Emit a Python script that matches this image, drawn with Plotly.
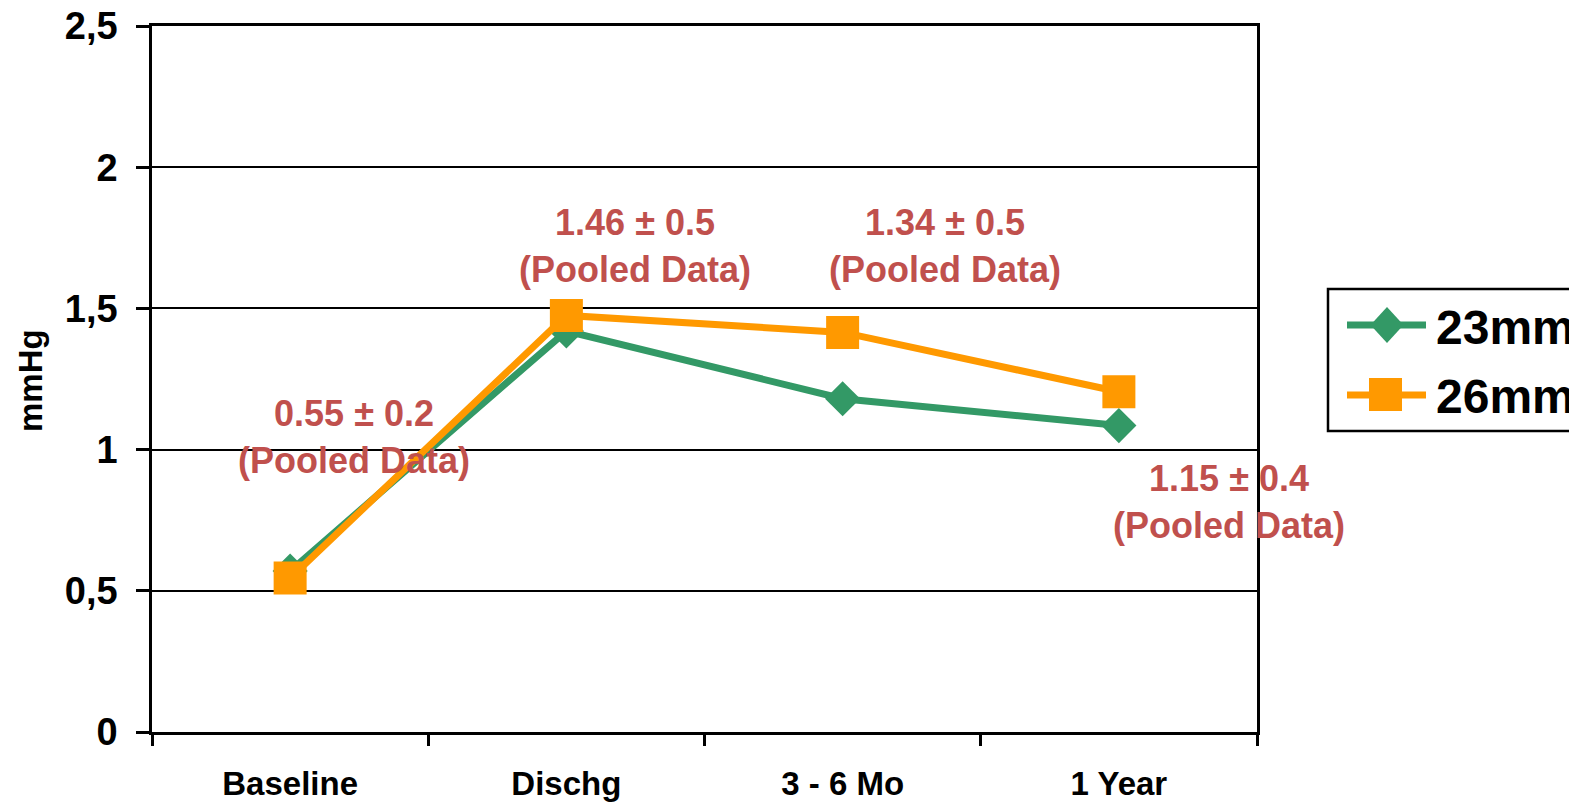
import plotly.graph_objects as go

# Mean transvalvular gradient by follow-up visit, per valve size
categories = ["Baseline", "Dischg", "3 - 6 Mo", "1 Year"]
series_names = ["23mm", "26mm"]
values_23mm = [0.57, 1.42, 1.18, 1.085]
values_26mm = [0.545, 1.475, 1.415, 1.205]

# Pooled mean ± SD labels shown beside the points
pooled_labels = ["0.55 ± 0.2", "1.46 ± 0.5", "1.34 ± 0.5", "1.15 ± 0.4"]

GREEN = "#339966"
ORANGE = "#FF9900"
LABEL_RED = "#C0504D"
FONT = "Liberation Sans, Arial, sans-serif"

W_FIG, H_FIG = 1569, 804
L, R, T, B = 152, 312, 26, 72
PW = W_FIG - L - R
PH = H_FIG - T - B


def px_x(px):
    return (px - L) / PW


def px_y(py):
    return (H_FIG - B - py) / PH


fig = go.Figure()

fig.add_trace(go.Scatter(
    x=categories, y=values_23mm, name=series_names[0], mode="lines+markers",
    line=dict(color=GREEN, width=7),
    marker=dict(symbol="diamond", size=27, color=GREEN),
    showlegend=False, cliponaxis=False,
))
fig.add_trace(go.Scatter(
    x=categories, y=values_26mm, name=series_names[1], mode="lines+markers",
    line=dict(color=ORANGE, width=7),
    marker=dict(symbol="square", size=33, color=ORANGE),
    showlegend=False, cliponaxis=False,
))

# Pooled-data annotations (x as category index, y in mmHg)
label_pos = [(0.23, 1.045), (1.25, 1.72), (2.37, 1.72), (3.4, 0.815)]
annotations = []
for txt, (ax, ay) in zip(pooled_labels, label_pos):
    annotations.append(dict(
        x=ax, y=ay, xref="x", yref="y", showarrow=False,
        text=f"{txt}<br>(Pooled Data)",
        font=dict(family=FONT, size=36, color=LABEL_RED, weight="bold"),
        xanchor="center", yanchor="middle", align="center",
    ))

# y-axis title
annotations.append(dict(
    x=px_x(31), y=px_y(381), xref="paper", yref="paper", showarrow=False,
    text="mmHg", textangle=-90,
    font=dict(family=FONT, size=33, color="black", weight="bold"),
    xanchor="center", yanchor="middle",
))

# Legend labels
for name, cy in zip(series_names, [327, 396]):
    annotations.append(dict(
        x=px_x(1434), y=px_y(cy), xref="paper", yref="paper", showarrow=False,
        text=name, font=dict(family=FONT, size=48, color="black", weight="bold"),
        xanchor="left", yanchor="middle",
    ))

# Legend frame and symbols
shapes = [
    dict(type="rect", xref="paper", yref="paper",
         x0=px_x(1328), x1=px_x(1620), y0=px_y(431), y1=px_y(289),
         line=dict(color="black", width=2.5), fillcolor="white", layer="below"),
    dict(type="line", xref="paper", yref="paper",
         x0=px_x(1347), x1=px_x(1426), y0=px_y(325), y1=px_y(325),
         line=dict(color=GREEN, width=7)),
    dict(type="path", xref="paper", yref="paper",
         path=(f"M{px_x(1387 - 16.5)},{px_y(325)} L{px_x(1387)},{px_y(325 - 18)} "
               f"L{px_x(1387 + 16.5)},{px_y(325)} L{px_x(1387)},{px_y(325 + 18)} Z"),
         fillcolor=GREEN, line=dict(width=0)),
    dict(type="line", xref="paper", yref="paper",
         x0=px_x(1347), x1=px_x(1426), y0=px_y(395), y1=px_y(395),
         line=dict(color=ORANGE, width=7)),
    dict(type="rect", xref="paper", yref="paper",
         x0=px_x(1369), x1=px_x(1402), y0=px_y(411), y1=px_y(378),
         fillcolor=ORANGE, line=dict(width=0)),
]

fig.update_layout(
    width=W_FIG, height=H_FIG,
    margin=dict(l=L, r=R, t=T, b=B, autoexpand=False),
    paper_bgcolor="white", plot_bgcolor="white",
    separators=", ",
    showlegend=False,
    annotations=annotations,
    shapes=shapes,
    font=dict(family=FONT, color="black"),
)

fig.update_xaxes(
    type="category", range=[-0.5, 3.5],
    showline=True, linecolor="black", linewidth=2.5, mirror=True,
    ticks="outside", ticklen=11, tickwidth=2.5, tickcolor="black",
    tickson="boundaries", showgrid=False, zeroline=False,
    tickfont=dict(family=FONT, size=33, color="black", weight="bold"),
    ticklabelstandoff=21,
)
fig.update_yaxes(
    range=[0, 2.5], dtick=0.5, tick0=0,
    showline=True, linecolor="black", linewidth=2.5, mirror=True,
    ticks="outside", ticklen=13, tickwidth=2.5, tickcolor="black",
    showgrid=True, gridcolor="black", gridwidth=2, zeroline=False,
    tickfont=dict(family=FONT, size=38, color="black", weight="bold"),
    ticklabelstandoff=11,
)

fig.write_html("out.html")
